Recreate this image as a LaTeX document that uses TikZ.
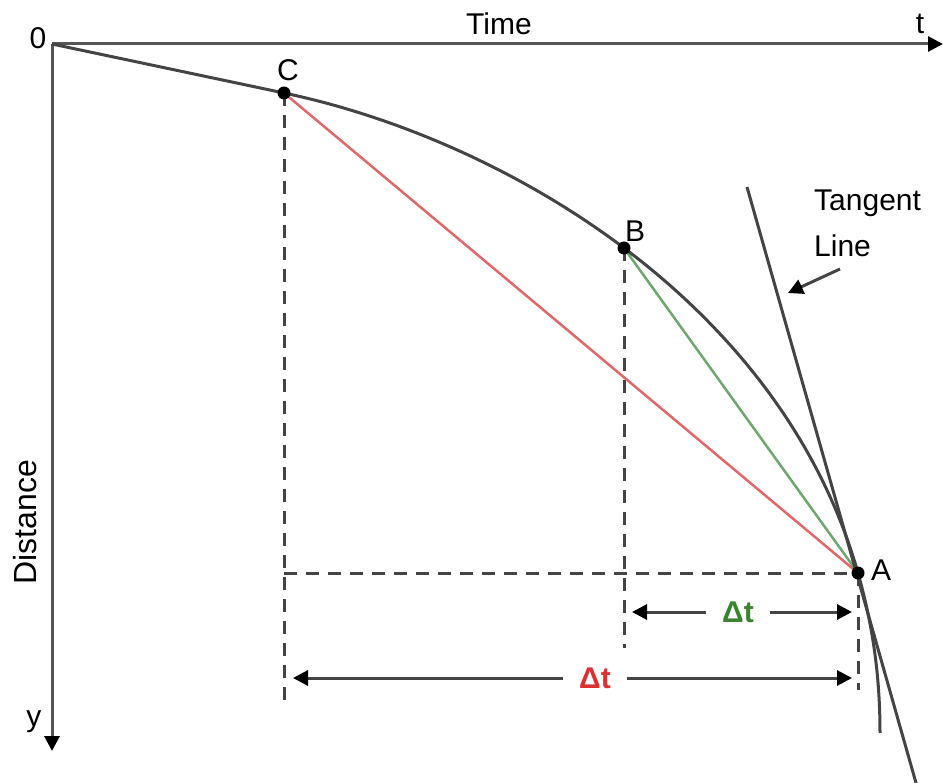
\documentclass[tikz,border=0pt]{standalone}
\usepackage{fontspec}
\setmainfont{Liberation Sans}
\usetikzlibrary{arrows.meta}
\definecolor{axis_gray}{RGB}{85,85,85}
\definecolor{curve_gray}{RGB}{68,68,68}
\definecolor{chord_red}{RGB}{224,104,104}
\definecolor{chord_green}{RGB}{110,168,110}
\definecolor{dt_red}{RGB}{222,48,48}
\definecolor{dt_green}{RGB}{58,132,44}

\begin{document}
\begin{tikzpicture}[
    x=1pt, y=-1pt,
    txt/.style={font=\fontsize{30}{34}\selectfont, inner sep=0pt},
    axis/.style={draw=axis_gray, line width=3pt,
                 -{Triangle[length=15pt,width=15pt,color=black]}},
    curve/.style={draw=curve_gray, line width=3pt},
    guide/.style={draw=curve_gray, line width=3pt, dash pattern=on 13pt off 9pt},
    dim/.style={draw=curve_gray, line width=3pt,
                -{Triangle[length=15pt,width=15pt,color=black]}},
    dot/.style={circle, fill=black, inner sep=0pt, minimum size=13pt},
    dtlabel/.style={font=\fontsize{30}{34}\selectfont\bfseries, inner sep=16pt}]
    \useasboundingbox (0,0) rectangle (943,783);
    % points on the curve
    \coordinate (O) at (52,44);
    \coordinate (pC) at (284,93);
    \coordinate (pB) at (624,248);
    \coordinate (pA) at (858,573);
    \coordinate (end) at (880,733);
    % axes
    \coordinate (tx) at (943,44);
    \coordinate (ty) at (52,751);
    \draw[axis] (O) -- (tx);
    \draw[axis] (O) -- (ty);
    \node[txt] (zero) at (38,38) {0};
    \node[txt] (time) at (499,24) {Time};
    \node[txt] (tlab) at (920,24) {t};
    \node[txt] (ylab) at (34,722) {y};
    \node[txt, rotate=90, font=\fontsize{32}{34}\selectfont] (dist) at (25,522) {Distance};
    % guides
    \coordinate (Cfoot) at (284,700);
    \coordinate (Bfoot) at (624,648);
    \coordinate (Afoot) at (858,690);
    \coordinate (Hleft) at (284,573);
    \draw[guide] (pC) -- (Cfoot);
    \draw[guide] (pB) -- (Bfoot);
    \draw[guide] (Hleft) -- (pA);
    \draw[guide] (pA) -- (Afoot);
    % chords
    \draw[chord_red, line width=2.5pt] (pC) -- (pA);
    \draw[chord_green, line width=2.5pt] (pB) -- (pA);
    % curve and tangent
    \draw[curve] (O) -- (pC) .. controls (502.7,138.9) and (780.7,300.4) .. (pA)
      .. controls (874,630) and (880,680) .. (end);
    \coordinate (T1) at (747,187);
    \coordinate (T2) at (918,790);
    \draw[curve] (T1) -- (T2);
    \node[txt, align=left, anchor=west, font=\fontsize{30}{46}\selectfont]
      (tangent) at (814,223) {Tangent\\Line};
    \coordinate (tp1) at (840,269);
    \coordinate (tp2) at (788,293);
    \draw[dim] (tp1) -- (tp2);
    % points
    \node[dot] (C) at (pC) {};
    \node[dot] (B) at (pB) {};
    \node[dot] (A) at (pA) {};
    \node[txt] (Clab) at (288,70) {C};
    \node[txt] (Blab) at (635,231) {B};
    \node[txt] (Alab) at (881,570) {A};
    % time intervals
    \node[dtlabel, text=dt_green] (dtg) at (738,612) {Δt};
    \coordinate (gl) at (632,612);
    \coordinate (gr) at (852,612);
    \draw[dim] (dtg.west) -- (gl);
    \draw[dim] (dtg.east) -- (gr);
    \node[dtlabel, text=dt_red] (dtr) at (595,678) {Δt};
    \coordinate (rl) at (293,678);
    \coordinate (rr) at (852,678);
    \draw[dim] (dtr.west) -- (rl);
    \draw[dim] (dtr.east) -- (rr);
\end{tikzpicture}
\end{document}
